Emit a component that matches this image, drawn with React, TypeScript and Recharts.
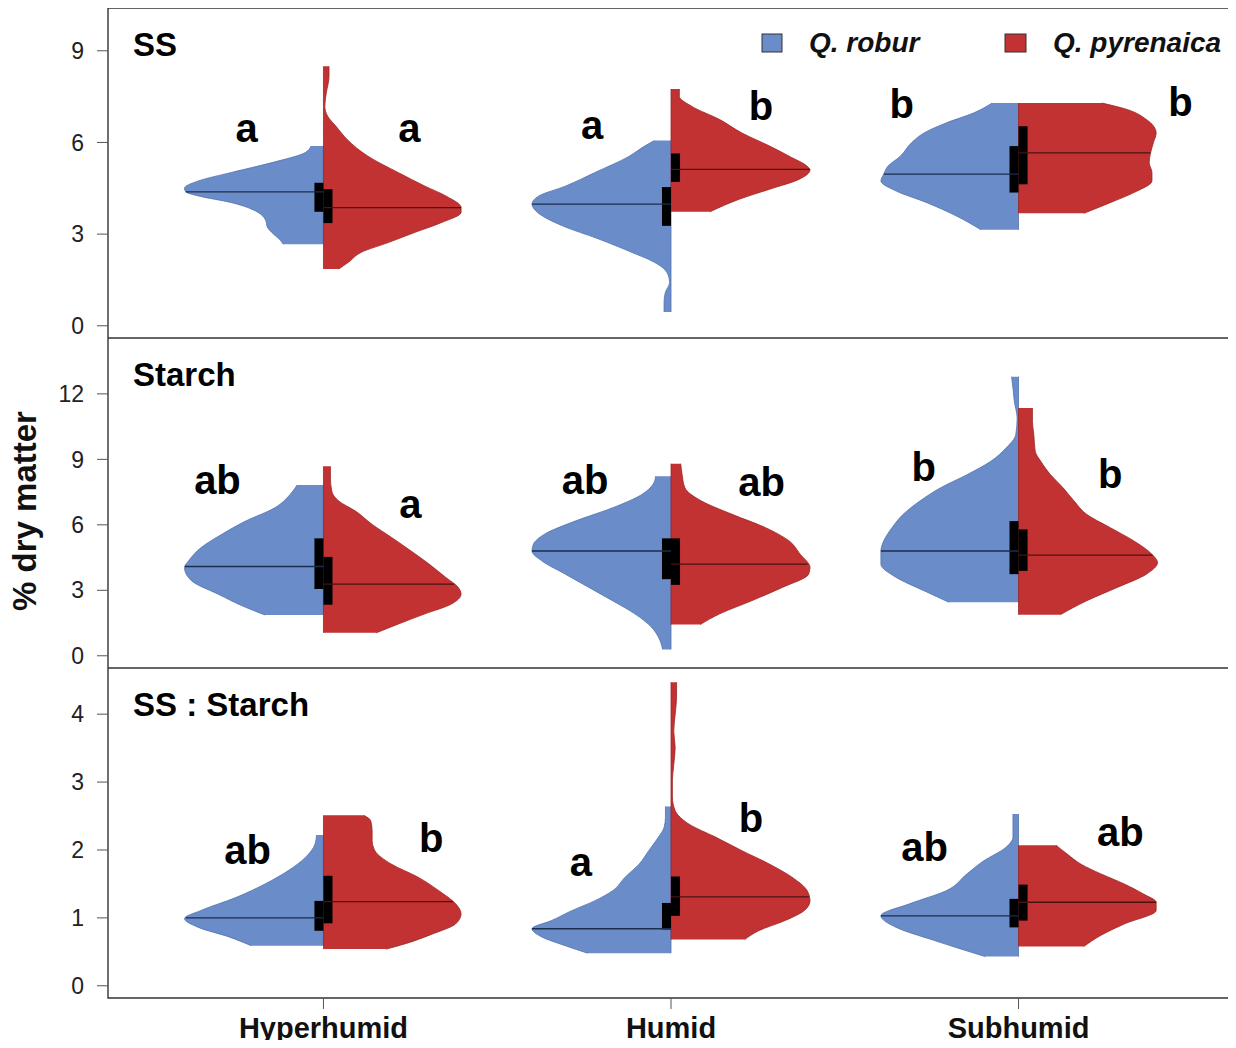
import React from 'react'
import { ComposedChart, Area, Line, Scatter, XAxis, YAxis, ReferenceArea } from 'recharts'

const FONT = '"Liberation Sans", Arial, Helvetica, sans-serif'
const BLUE = '#6a8cc8'
const BLUE_EDGE = '#5272ad'
const RED = '#c23233'
const RED_EDGE = '#9c2626'

const categories = ['Hyperhumid', 'Humid', 'Subhumid']
const species = ['Q. robur', 'Q. pyrenaica']

// violin halves: [value, relative density] from top to bottom
// SS
const ssRoburHyper = [[5.88, 0.09], [5.67, 0.13], [5.34, 0.37], [5.02, 0.66], [4.74, 0.9], [4.5, 1.0], [4.38, 0.99], [4.25, 0.9], [4.03, 0.66], [3.71, 0.47], [3.49, 0.42], [3.2, 0.4], [3.0, 0.36], [2.8, 0.31], [2.67, 0.29]]
const ssRoburHumid = [[6.06, 0.12], [5.88, 0.19], [5.55, 0.3], [5.01, 0.55], [4.57, 0.76], [4.25, 0.95], [3.98, 1.0], [3.71, 0.96], [3.27, 0.78], [2.84, 0.52], [2.4, 0.28], [2.08, 0.12], [1.75, 0.03], [1.42, 0.01], [1.1, 0.04], [0.77, 0.05], [0.45, 0.05]]
const ssRoburSub = [[7.29, 0.19], [6.97, 0.32], [6.64, 0.52], [6.31, 0.68], [5.99, 0.77], [5.55, 0.85], [5.22, 0.94], [4.96, 0.97], [4.74, 0.99], [4.41, 0.88], [4.03, 0.66], [3.6, 0.45], [3.14, 0.27]]
const ssPyrHyper = [[8.49, 0.04], [8.16, 0.04], [7.61, 0.02], [7.18, 0.01], [6.86, 0.03], [6.53, 0.09], [6.1, 0.17], [5.55, 0.32], [5.01, 0.54], [4.57, 0.73], [4.25, 0.88], [3.87, 0.99], [3.71, 0.99], [3.38, 0.85], [3.06, 0.66], [2.73, 0.47], [2.4, 0.27], [2.08, 0.18], [1.86, 0.11]]
const ssPyrHumid = [[7.75, 0.06], [7.51, 0.06], [7.18, 0.15], [6.75, 0.35], [6.31, 0.51], [5.88, 0.71], [5.55, 0.85], [5.22, 0.98], [5.1, 1.0], [4.79, 0.92], [4.47, 0.71], [4.14, 0.49], [3.73, 0.28]]
const ssPyrSub = [[7.29, 0.6], [7.08, 0.78], [6.75, 0.92], [6.31, 0.99], [5.99, 0.97], [5.66, 0.95], [5.34, 0.94], [5.01, 0.96], [4.74, 0.96], [4.36, 0.83], [4.03, 0.66], [3.68, 0.47]]
const ssRoburMedian = [4.38, 3.98, 4.96]
const ssRoburQ1 = [3.73, 3.27, 4.36]
const ssRoburQ3 = [4.68, 4.54, 5.88]
const ssPyrMedian = [3.87, 5.12, 5.66]
const ssPyrQ1 = [3.36, 4.71, 4.63]
const ssPyrQ3 = [4.47, 5.64, 6.53]
const ssRoburLetters = ['a', 'a', 'b']
const ssPyrLetters = ['a', 'b', 'b']

// Starch
const stRoburHyper = [[7.82, 0.19], [7.39, 0.24], [6.78, 0.35], [6.17, 0.56], [5.57, 0.73], [4.96, 0.88], [4.35, 0.97], [4.05, 1.0], [3.44, 0.95], [2.83, 0.76], [2.22, 0.56], [1.87, 0.42]]
const stRoburHumid = [[8.23, 0.11], [7.85, 0.13], [7.39, 0.21], [6.78, 0.42], [6.17, 0.69], [5.57, 0.91], [5.11, 0.99], [4.8, 1.0], [4.35, 0.93], [3.74, 0.76], [3.13, 0.59], [2.52, 0.42], [1.92, 0.26], [1.31, 0.14], [0.85, 0.09], [0.29, 0.06]]
const stRoburSub = [[12.79, 0.05], [12.26, 0.04], [11.65, 0.03], [10.89, 0.01], [10.13, 0.02], [9.52, 0.09], [8.91, 0.2], [8.3, 0.37], [7.7, 0.56], [7.09, 0.71], [6.48, 0.83], [5.87, 0.91], [5.26, 0.97], [4.8, 0.99], [4.2, 0.99], [3.59, 0.88], [2.98, 0.68], [2.45, 0.5]]
const stPyrHyper = [[8.68, 0.05], [8.15, 0.05], [7.54, 0.06], [7.09, 0.11], [6.63, 0.23], [6.02, 0.35], [5.42, 0.49], [4.8, 0.63], [4.2, 0.76], [3.59, 0.88], [3.13, 0.97], [2.83, 0.99], [2.37, 0.92], [1.92, 0.73], [1.46, 0.54], [1.05, 0.38]]
const stPyrHumid = [[8.8, 0.07], [8.3, 0.08], [7.7, 0.1], [7.09, 0.22], [6.48, 0.44], [5.87, 0.68], [5.26, 0.85], [4.65, 0.93], [4.05, 1.0], [3.74, 0.99], [3.13, 0.8], [2.52, 0.58], [1.92, 0.35], [1.43, 0.21]]
const stPyrSub = [[11.35, 0.1], [10.73, 0.1], [10.13, 0.11], [9.37, 0.12], [8.91, 0.16], [8.3, 0.23], [7.7, 0.32], [7.09, 0.4], [6.48, 0.49], [5.87, 0.66], [5.26, 0.83], [4.65, 0.96], [4.27, 1.0], [3.74, 0.92], [3.13, 0.71], [2.52, 0.49], [1.88, 0.3]]
const stRoburMedian = [4.09, 4.8, 4.8]
const stRoburQ1 = [3.06, 3.51, 3.74]
const stRoburQ3 = [5.38, 5.38, 6.17]
const stPyrMedian = [3.28, 4.2, 4.61]
const stPyrQ1 = [2.34, 3.25, 3.89]
const stPyrQ3 = [4.53, 5.38, 5.79]
const stRoburLetters = ['ab', 'ab', 'b']
const stPyrLetters = ['a', 'ab', 'b']

// SS : Starch
const raRoburHyper = [[2.22, 0.05], [2.09, 0.06], [1.89, 0.13], [1.7, 0.25], [1.5, 0.42], [1.3, 0.63], [1.11, 0.88], [0.99, 1.0], [0.86, 0.9], [0.72, 0.68], [0.59, 0.52]]
const raRoburHumid = [[2.64, 0.04], [2.48, 0.04], [2.33, 0.05], [2.19, 0.09], [1.99, 0.16], [1.79, 0.23], [1.6, 0.33], [1.4, 0.42], [1.25, 0.55], [1.11, 0.71], [0.96, 0.86], [0.84, 1.0], [0.72, 0.93], [0.59, 0.76], [0.48, 0.6]]
const raRoburSub = [[2.53, 0.04], [2.38, 0.04], [2.19, 0.04], [2.04, 0.09], [1.84, 0.25], [1.65, 0.37], [1.4, 0.52], [1.21, 0.78], [1.03, 0.99], [0.86, 0.88], [0.67, 0.61], [0.43, 0.24]]
const raPyrHyper = [[2.51, 0.29], [2.43, 0.34], [2.28, 0.35], [2.14, 0.35], [1.99, 0.37], [1.79, 0.49], [1.6, 0.68], [1.4, 0.83], [1.21, 0.95], [1.06, 0.99], [0.91, 0.95], [0.76, 0.78], [0.62, 0.59], [0.54, 0.45]]
const raPyrHumid = [[4.47, 0.04], [4.25, 0.04], [4.0, 0.03], [3.75, 0.02], [3.51, 0.03], [3.26, 0.02], [3.02, 0.01], [2.78, 0.01], [2.58, 0.03], [2.38, 0.13], [2.19, 0.32], [1.99, 0.51], [1.79, 0.71], [1.6, 0.87], [1.4, 0.98], [1.25, 1.0], [1.11, 0.96], [0.96, 0.82], [0.81, 0.63], [0.68, 0.53]]
const raPyrSub = [[2.07, 0.27], [1.94, 0.35], [1.79, 0.45], [1.65, 0.59], [1.5, 0.76], [1.35, 0.9], [1.23, 0.99], [1.11, 0.99], [0.91, 0.76], [0.74, 0.59], [0.58, 0.47]]
const raRoburMedian = [1.0, 0.84, 1.03]
const raRoburQ1 = [0.81, 0.83, 0.86]
const raRoburQ3 = [1.25, 1.22, 1.28]
const raPyrMedian = [1.24, 1.31, 1.23]
const raPyrQ1 = [0.92, 1.03, 0.96]
const raPyrQ3 = [1.62, 1.61, 1.49]
const raRoburLetters = ['ab', 'a', 'ab']
const raPyrLetters = ['b', 'b', 'ab']

const X_DOMAIN: [number, number] = [0.38, 3.62]
const HALF_W = 0.4 // widest half violin, in category units
const BOX_W = 0.026

type Profile = number[][]

interface PanelDef {
  title: string
  domain: [number, number]
  ticks: number[]
  robur: Profile[]
  pyr: Profile[]
  roburMedian: number[]
  roburQ1: number[]
  roburQ3: number[]
  pyrMedian: number[]
  pyrQ1: number[]
  pyrQ3: number[]
  roburLetters: string[]
  pyrLetters: string[]
  // letter placement: offset from category centre and baseline height
  roburLetterDx: number[]
  roburLetterY: number[]
  pyrLetterDx: number[]
  pyrLetterY: number[]
}

const panels: PanelDef[] = [
  {
    title: 'SS', domain: [-0.4, 10.4], ticks: [0, 3, 6, 9],
    robur: [ssRoburHyper, ssRoburHumid, ssRoburSub], pyr: [ssPyrHyper, ssPyrHumid, ssPyrSub],
    roburMedian: ssRoburMedian, roburQ1: ssRoburQ1, roburQ3: ssRoburQ3,
    pyrMedian: ssPyrMedian, pyrQ1: ssPyrQ1, pyrQ3: ssPyrQ3,
    roburLetters: ssRoburLetters, pyrLetters: ssPyrLetters,
    roburLetterDx: [-0.221, -0.227, -0.336], roburLetterY: [6.0, 6.1, 6.8],
    pyrLetterDx: [0.247, 0.259, 0.466], pyrLetterY: [6.0, 6.75, 6.86]
  },
  {
    title: 'Starch', domain: [-0.56, 14.56], ticks: [0, 3, 6, 9, 12],
    robur: [stRoburHyper, stRoburHumid, stRoburSub], pyr: [stPyrHyper, stPyrHumid, stPyrSub],
    roburMedian: stRoburMedian, roburQ1: stRoburQ1, roburQ3: stRoburQ3,
    pyrMedian: stPyrMedian, pyrQ1: stPyrQ1, pyrQ3: stPyrQ3,
    roburLetters: stRoburLetters, pyrLetters: stPyrLetters,
    roburLetterDx: [-0.305, -0.247, -0.273], roburLetterY: [7.39, 7.39, 8.0],
    pyrLetterDx: [0.25, 0.261, 0.264], pyrLetterY: [6.33, 7.31, 7.7]
  },
  {
    title: 'SS : Starch', domain: [-0.18, 4.68], ticks: [0, 1, 2, 3, 4],
    robur: [raRoburHyper, raRoburHumid, raRoburSub], pyr: [raPyrHyper, raPyrHumid, raPyrSub],
    roburMedian: raRoburMedian, roburQ1: raRoburQ1, roburQ3: raRoburQ3,
    pyrMedian: raPyrMedian, pyrQ1: raPyrQ1, pyrQ3: raPyrQ3,
    roburLetters: raRoburLetters, pyrLetters: raPyrLetters,
    roburLetterDx: [-0.218, -0.259, -0.27], roburLetterY: [1.79, 1.62, 1.84],
    pyrLetterDx: [0.31, 0.23, 0.293], pyrLetterY: [1.97, 2.26, 2.06]
  }
]

function densityAt(profile: Profile, v: number) {
  for (let i = 0; i < profile.length - 1; i++) {
    const [v0, d0] = profile[i]
    const [v1, d1] = profile[i + 1]
    if (v <= v0 && v >= v1) {
      const t = v0 === v1 ? 0 : (v0 - v) / (v0 - v1)
      return d0 + t * (d1 - d0)
    }
  }
  return 0
}

function halfViolin(profile: Profile, cat: number, side: number) {
  return profile.map(([v, d]) => ({
    v,
    r: side < 0 ? [cat - d * HALF_W, cat] : [cat, cat + d * HALF_W]
  }))
}

const LetterShape = (props: any) => (
  <text
    x={props.cx}
    y={props.cy}
    textAnchor="middle"
    fontSize={40}
    fontWeight={700}
    fontFamily={FONT}
    fill="#000"
  >
    {props.payload.label}
  </text>
)

function Panel({ def, height, showX }: { def: PanelDef; height: number; showX: boolean }) {
  const halves = [
    { profiles: def.robur, side: -1, fill: BLUE, edge: BLUE_EDGE, med: def.roburMedian, q1: def.roburQ1, q3: def.roburQ3, medColor: '#1d2d4d' },
    { profiles: def.pyr, side: 1, fill: RED, edge: RED_EDGE, med: def.pyrMedian, q1: def.pyrQ1, q3: def.pyrQ3, medColor: '#4a1212' }
  ]
  const letters = [
    ...def.roburLetters.map((label, i) => ({ x: i + 1 + def.roburLetterDx[i], v: def.roburLetterY[i], label })),
    ...def.pyrLetters.map((label, i) => ({ x: i + 1 + def.pyrLetterDx[i], v: def.pyrLetterY[i], label }))
  ]

  return (
    <ComposedChart
      layout="vertical"
      width={1228}
      height={height}
      margin={{ top: 0, right: 2, bottom: 0, left: 0 }}
    >
      <XAxis
        type="number"
        dataKey="x"
        domain={X_DOMAIN}
        allowDataOverflow
        ticks={[1, 2, 3]}
        interval={0}
        hide={!showX}
        height={50}
        axisLine={false}
        tickSize={11}
        tickMargin={8}
        tickLine={{ stroke: '#555' }}
        tickFormatter={(t: number) => categories[t - 1]}
        tick={{ fontSize: 29, fontWeight: 700, fill: '#111', fontFamily: FONT }}
      />
      <YAxis
        type="number"
        dataKey="v"
        domain={def.domain}
        allowDataOverflow
        reversed
        ticks={def.ticks}
        interval={0}
        width={100}
        axisLine={false}
        tickSize={11}
        tickMargin={13}
        tickLine={{ stroke: '#555' }}
        tick={{ fontSize: 23, fill: '#222', fontFamily: FONT }}
      />
      <ReferenceArea
        x1={X_DOMAIN[0]}
        x2={X_DOMAIN[1]}
        y1={def.domain[0]}
        y2={def.domain[1]}
        fill="none"
        stroke="#333"
        strokeWidth={1.4}
        label={{ value: def.title, position: 'insideTopLeft', offset: 25, fontSize: 33, fontWeight: 700, fill: '#000', fontFamily: FONT }}
      />
      {halves.map((h) =>
        h.profiles.map((p, i) => (
          <Area
            key={`v${h.side}${i}`}
            data={halfViolin(p, i + 1, h.side)}
            dataKey="r"
            type="monotone"
            fill={h.fill}
            fillOpacity={1}
            stroke={h.edge}
            strokeWidth={0.8}
            dot={false}
            activeDot={false}
            isAnimationActive={false}
          />
        ))
      )}
      {halves.map((h) =>
        h.profiles.map((p, i) => {
          const c = i + 1
          const w = densityAt(p, h.med[i]) * HALF_W
          return (
            <Line
              key={`m${h.side}${i}`}
              data={[{ v: h.med[i], x: c + h.side * w }, { v: h.med[i], x: c }]}
              dataKey="x"
              type="linear"
              stroke={h.medColor}
              strokeWidth={1.3}
              dot={false}
              activeDot={false}
              isAnimationActive={false}
            />
          )
        })
      )}
      {halves.map((h) =>
        h.profiles.map((_, i) => {
          const c = i + 1
          const r = h.side < 0 ? [c - BOX_W, c] : [c, c + BOX_W]
          return (
            <Area
              key={`b${h.side}${i}`}
              data={[{ v: h.q3[i], r }, { v: h.q1[i], r }]}
              dataKey="r"
              type="linear"
              fill="#000"
              fillOpacity={1}
              stroke="none"
              dot={false}
              activeDot={false}
              isAnimationActive={false}
            />
          )
        })
      )}
      <Scatter data={letters} shape={LetterShape} isAnimationActive={false} />
    </ComposedChart>
  )
}

export default function App() {
  // body keeps its 8px margin; the container fills the rest of the 1236x1048 page
  return (
    <div style={{ position: 'relative', width: 1220, height: 1032, background: '#fff', fontFamily: FONT }}>
      <div style={{ position: 'absolute', left: 0, top: 0 }}>
        <Panel def={panels[0]} height={330} showX={false} />
      </div>
      <div style={{ position: 'absolute', left: 0, top: 330 }}>
        <Panel def={panels[1]} height={330} showX={false} />
      </div>
      <div style={{ position: 'absolute', left: 0, top: 660 }}>
        <Panel def={panels[2]} height={380} showX={true} />
      </div>
      <svg width={1236} height={1048} style={{ position: 'absolute', left: -8, top: -8, pointerEvents: 'none' }}>
        <text
          transform="translate(36,511) rotate(-90)"
          textAnchor="middle"
          fontSize={33}
          fontWeight={700}
          fontFamily={FONT}
          fill="#111"
        >
          % dry matter
        </text>
        <rect x={762} y={34} width={20} height={18} fill={BLUE} stroke="#333" strokeWidth={1} />
        <text x={809} y={52} fontSize={28} fontWeight={700} fontStyle="italic" fontFamily={FONT} fill="#111">
          {species[0]}
        </text>
        <rect x={1005} y={34} width={21} height={18} fill={RED} stroke="#333" strokeWidth={1} />
        <text x={1053} y={52} fontSize={28} fontWeight={700} fontStyle="italic" fontFamily={FONT} fill="#111">
          {species[1]}
        </text>
      </svg>
    </div>
  )
}
